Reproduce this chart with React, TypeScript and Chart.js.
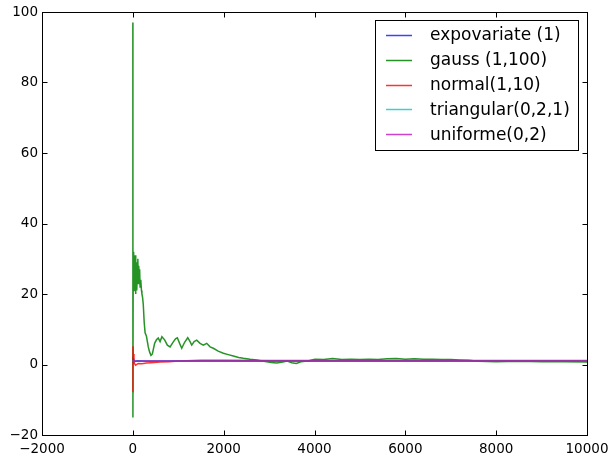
import React, { useEffect, useRef } from "react";
import { Chart, registerables } from "chart.js";

Chart.register(...registerables);

// ---- data (running averages) ----
const expoX = [0, 5, 20, 50, 100, 300, 1000, 3000, 10000];
const expoY = [0.4, 1.6, 1.2, 0.9, 1.05, 0.95, 1.0, 1.0, 1.0];

const gaussX = [0, 2, 8, 15, 20, 28, 35, 45, 52, 60, 68, 75, 82, 90, 100, 110, 120, 130, 140, 150, 160, 175, 190, 200, 215, 230, 250, 270, 300, 340, 370, 400, 430, 480, 520, 560, 600, 640, 700, 760, 820, 880, 940, 980, 1030, 1077, 1140, 1209, 1260, 1297, 1350, 1407, 1480, 1552, 1627, 1700, 1772, 1880, 1993, 2100, 2213, 2330, 2433, 2580, 2728, 2850, 2948, 3050, 3168, 3300, 3400, 3500, 3600, 3700, 3850, 4011, 4200, 4400, 4600, 4800, 5000, 5200, 5400, 5600, 5800, 6000, 6200, 6400, 6600, 6800, 7000, 7200, 7400, 7600, 8000, 8500, 9000, 9500, 10000];
const gaussY = [97, -15, 28, 24, 32, 21, 30, 22, 31, 20, 27, 24, 29, 21, 26, 30, 23, 28, 25, 27, 22, 24, 21, 20, 19, 17, 12, 9, 8, 5, 3.5, 2.6, 3, 6, 7, 7.5, 6.5, 7.9, 7, 5.5, 5.0, 6.2, 7.3, 7.6, 6, 4.6, 6.3, 7.6, 6.5, 5.5, 6.5, 6.9, 6.0, 5.5, 6.0, 5, 4.6, 3.8, 3.2, 2.8, 2.4, 2.0, 1.75, 1.5, 1.3, 1.0, 0.8, 0.6, 0.4, 0.7, 1.0, 0.5, 0.3, 0.8, 1.0, 1.5, 1.4, 1.7, 1.4, 1.5, 1.4, 1.5, 1.4, 1.6, 1.7, 1.5, 1.6, 1.5, 1.5, 1.4, 1.4, 1.3, 1.2, 0.9, 0.8, 0.9, 0.8, 0.8, 0.7];

const normalX = [0, 3, 10, 25, 60, 120, 200, 300, 400, 600, 800, 1000, 1500, 2000, 3000, 4000, 6000, 8000, 10000];
const normalY = [-7.7, 5.2, 3, 0.5, -0.2, 0.3, 0.2, 0.4, 0.5, 0.7, 0.8, 1.0, 1.2, 1.2, 1.1, 1.1, 1.1, 1.1, 1.1];

const triX = [0, 10, 50, 10000];
const triY = [1.2, 0.9, 1.0, 1.0];

const unifX = [0, 10, 50, 200, 10000];
const unifY = [0.8, 1.1, 0.95, 1.0, 1.0];

const labels = ["expovariate (1)", "gauss (1,100)", "normal(1,10)", "triangular(0,2,1)", "uniforme(0,2)"];
const colors = ["rgba(0,0,255,0.75)", "rgba(0,128,0,0.85)", "rgba(255,0,0,0.8)", "rgba(0,191,191,0.75)", "rgba(191,0,191,0.75)"];

const xTicks = [-2000, 0, 2000, 4000, 6000, 8000, 10000];
const yTicks = [-20, 0, 20, 40, 60, 80, 100];

const pts = (xs: number[], ys: number[]) => xs.map((x, i) => ({ x, y: ys[i] }));

const FONT = '"DejaVu Sans", sans-serif';

const framePlugin = {
  id: "frame",
  afterDatasetsDraw(chart: any) {
    const { ctx, chartArea: a, scales } = chart;
    const L = Math.round(a.left) + 0.5;
    const R = Math.round(a.right) + 0.5;
    const T = Math.round(a.top) + 0.5;
    const B = Math.round(a.bottom) + 0.5;
    ctx.save();
    ctx.strokeStyle = "#000";
    ctx.lineWidth = 1;
    ctx.strokeRect(L, T, R - L, B - T);
    const tl = 5;
    ctx.beginPath();
    xTicks.forEach((v) => {
      const p = Math.round(scales.x.getPixelForValue(v)) + 0.5;
      ctx.moveTo(p, B);
      ctx.lineTo(p, B - tl);
      ctx.moveTo(p, T);
      ctx.lineTo(p, T + tl);
    });
    yTicks.forEach((v) => {
      const p = Math.round(scales.y.getPixelForValue(v)) + 0.5;
      ctx.moveTo(L, p);
      ctx.lineTo(L + tl, p);
      ctx.moveTo(R, p);
      ctx.lineTo(R - tl, p);
    });
    ctx.stroke();

    // legend
    const bx = 375.5, by = 20.5, bw = 203, bh = 130;
    ctx.fillStyle = "#fff";
    ctx.fillRect(bx, by, bw, bh);
    ctx.strokeStyle = "#000";
    ctx.strokeRect(bx, by, bw, bh);
    ctx.font = `17px ${FONT}`;
    ctx.textBaseline = "middle";
    ctx.textAlign = "left";
    chart.data.datasets.forEach((ds: any, i: number) => {
      const y = 35 + i * 24.8;
      ctx.strokeStyle = ds.borderColor;
      ctx.lineWidth = 1.5;
      ctx.beginPath();
      ctx.moveTo(386, Math.round(y) + 0.5);
      ctx.lineTo(412, Math.round(y) + 0.5);
      ctx.stroke();
      ctx.fillStyle = "#000";
      ctx.fillText(ds.label, 430, y + 1);
    });
    ctx.restore();
  },
};

export default function App() {
  const ref = useRef<HTMLCanvasElement>(null);
  useEffect(() => {
    if (!ref.current) return;
    const series = [
      pts(expoX, expoY),
      pts(gaussX, gaussY),
      pts(normalX, normalY),
      pts(triX, triY),
      pts(unifX, unifY),
    ];
    const chart = new Chart(ref.current, {
      type: "line",
      data: {
        datasets: series.map((d, i) => ({
          label: labels[i],
          data: d,
          order: series.length - i,
          borderColor: colors[i],
          backgroundColor: colors[i],
          borderWidth: 1.5,
          pointRadius: 0,
          tension: 0,
          fill: false,
        })),
      },
      options: {
        responsive: false,
        animation: false,
        layout: { padding: { left: 0, right: 24, top: 12, bottom: 0 } },
        plugins: { legend: { display: false }, tooltip: { enabled: false } },
        scales: {
          x: {
            type: "linear",
            min: -2000,
            max: 10000,
            afterFit: (s: any) => { s.height = 23; s.paddingRight = 0; s.paddingLeft = 0; },
            afterBuildTicks: (s: any) => { s.ticks = xTicks.map((v) => ({ value: v })); },
            grid: { display: false, drawTicks: false },
            border: { display: false },
            ticks: {
              color: "#000",
              padding: 6,
              maxRotation: 0,
              autoSkip: false,
              font: { family: FONT, size: 13.5 },
              callback: (v: any) => String(v).replace("-", "\u2212"),
            },
          },
          y: {
            type: "linear",
            min: -20,
            max: 100,
            afterFit: (s: any) => { s.width = 42; s.paddingTop = 0; s.paddingBottom = 0; },
            afterBuildTicks: (s: any) => { s.ticks = yTicks.map((v) => ({ value: v })); },
            grid: { display: false, drawTicks: false },
            border: { display: false },
            ticks: {
              color: "#000",
              padding: 4,
              autoSkip: false,
              font: { family: FONT, size: 13.5 },
              callback: (v: any) => String(v).replace("-", "\u2212"),
            },
          },
        },
      },
      plugins: [framePlugin],
    });
    return () => chart.destroy();
  }, []);
  return (
    <div style={{ position: "absolute", left: 0, top: 0, width: 611, height: 458, background: "#fff" }}>
      <canvas ref={ref} width={611} height={458} />
    </div>
  );
}
